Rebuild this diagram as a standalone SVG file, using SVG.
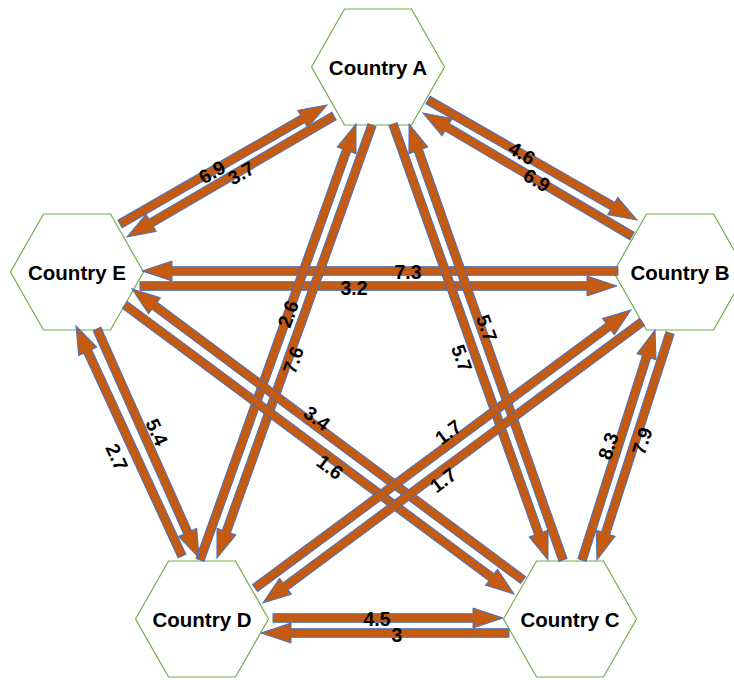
<svg xmlns="http://www.w3.org/2000/svg" width="734" height="680" viewBox="0 0 734 680">
<style>
.hex{fill:#fff;stroke:#70AD47;stroke-width:1.2}
.name{font-family:"Liberation Sans",Arial,sans-serif;font-weight:bold;font-size:20.5px;fill:#000;text-anchor:middle}
.arr{fill:#C55A11;stroke:#4472C4;stroke-width:1}
.lbl{font-family:"Liberation Sans",Arial,sans-serif;font-weight:bold;font-size:19.5px;fill:#000;text-anchor:middle;dominant-baseline:central}
</style>
<defs>
<polygon id="hexshape" points="-66.5,0 -33.5,-58 33.5,-58 66.5,0 33.5,58 -33.5,58"/>
</defs>
<g id="node-A"><use href="#hexshape" class="hex" transform="translate(378,67)"/><text class="name" x="378" y="75">Country A</text></g>
<g id="node-B"><use href="#hexshape" class="hex" transform="translate(680,272)"/><text class="name" x="680" y="280">Country B</text></g>
<g id="node-C"><use href="#hexshape" class="hex" transform="translate(570,619)"/><text class="name" x="570" y="627">Country C</text></g>
<g id="node-D"><use href="#hexshape" class="hex" transform="translate(202,619)"/><text class="name" x="202" y="627">Country D</text></g>
<g id="node-E"><use href="#hexshape" class="hex" transform="translate(77,272)"/><text class="name" x="77" y="280">Country E</text></g>
<g id="connectors">
<polygon class="arr" transform="translate(120,224) rotate(-29.9)" points="0,-4.3 210.8,-4.3 210.8,-10 238.8,0 210.8,10 210.8,4.3 0,4.3"/>
<polygon class="arr" transform="translate(334,116) rotate(149.7)" points="0,-4.3 211.8,-4.3 211.8,-10 239.8,0 211.8,10 211.8,4.3 0,4.3"/>
<polygon class="arr" transform="translate(428,100) rotate(29.86)" points="0,-4.3 213,-4.3 213,-10 241,0 213,10 213,4.3 0,4.3"/>
<polygon class="arr" transform="translate(632,236) rotate(-149.53)" points="0,-4.3 214.5,-4.3 214.5,-10 242.5,0 214.5,10 214.5,4.3 0,4.3"/>
<polygon class="arr" transform="translate(618,271) rotate(180)" points="0,-4.3 446,-4.3 446,-10 476,0 446,10 446,4.3 0,4.3"/>
<polygon class="arr" transform="translate(140,286)" points="0,-4.3 447,-4.3 447,-10 477,0 447,10 447,4.3 0,4.3"/>
<polygon class="arr" transform="translate(200,560) rotate(-70.31)" points="0,-4.3 435.1,-4.3 435.1,-10 463.1,0 435.1,10 435.1,4.3 0,4.3"/>
<polygon class="arr" transform="translate(372,125) rotate(109.7)" points="0,-4.3 431.9,-4.3 431.9,-10 459.9,0 431.9,10 431.9,4.3 0,4.3"/>
<polygon class="arr" transform="translate(393,124) rotate(70.43)" points="0,-4.3 434.7,-4.3 434.7,-10 462.7,0 434.7,10 434.7,4.3 0,4.3"/>
<polygon class="arr" transform="translate(563,560) rotate(-109.45)" points="0,-4.3 434.4,-4.3 434.4,-10 462.4,0 434.4,10 434.4,4.3 0,4.3"/>
<polygon class="arr" transform="translate(582,560) rotate(-72.39)" points="0,-4.3 213.3,-4.3 213.3,-10 241.3,0 213.3,10 213.3,4.3 0,4.3"/>
<polygon class="arr" transform="translate(670,333) rotate(107.83)" points="0,-4.3 210.4,-4.3 210.4,-10 238.4,0 210.4,10 210.4,4.3 0,4.3"/>
<polygon class="arr" transform="translate(182,556) rotate(-114.74)" points="0,-4.3 225.3,-4.3 225.3,-10 253.3,0 225.3,10 225.3,4.3 0,4.3"/>
<polygon class="arr" transform="translate(97,329) rotate(65.99)" points="0,-4.3 222.7,-4.3 222.7,-10 250.7,0 222.7,10 222.7,4.3 0,4.3"/>
<polygon class="arr" transform="translate(523,580) rotate(-143.34)" points="0,-4.3 459.4,-4.3 459.4,-10 487.4,0 459.4,10 459.4,4.3 0,4.3"/>
<polygon class="arr" transform="translate(125,305) rotate(36.61)" points="0,-4.3 456.6,-4.3 456.6,-10 484.6,0 456.6,10 456.6,4.3 0,4.3"/>
<polygon class="arr" transform="translate(255,588) rotate(-36.48)" points="0,-4.3 439.6,-4.3 439.6,-10 467.6,0 439.6,10 439.6,4.3 0,4.3"/>
<polygon class="arr" transform="translate(642,322) rotate(143.45)" points="0,-4.3 443.8,-4.3 443.8,-10 471.8,0 443.8,10 443.8,4.3 0,4.3"/>
<polygon class="arr" transform="translate(273,618)" points="0,-4.3 200,-4.3 200,-10 230,0 200,10 200,4.3 0,4.3"/>
<polygon class="arr" transform="translate(509,633) rotate(180)" points="0,-4.3 218,-4.3 218,-10 248,0 218,10 218,4.3 0,4.3"/>
<text class="lbl" transform="translate(212,172) rotate(-30)">6.9</text>
<text class="lbl" transform="translate(241,173) rotate(-30)">3.7</text>
<text class="lbl" transform="translate(522,153) rotate(30)">4.6</text>
<text class="lbl" transform="translate(537,180) rotate(30)">6.9</text>
<text class="lbl" transform="translate(408,272)">7.3</text>
<text class="lbl" transform="translate(354,288)">3.2</text>
<text class="lbl" transform="translate(288,314) rotate(-70)">2.6</text>
<text class="lbl" transform="translate(293,360) rotate(-70)">7.6</text>
<text class="lbl" transform="translate(487,328) rotate(70)">5.7</text>
<text class="lbl" transform="translate(462,358) rotate(70)">5.7</text>
<text class="lbl" transform="translate(608,446) rotate(-72)">8.3</text>
<text class="lbl" transform="translate(642,441) rotate(-72)">7.9</text>
<text class="lbl" transform="translate(157,432) rotate(65)">5.4</text>
<text class="lbl" transform="translate(117,457) rotate(65)">2.7</text>
<text class="lbl" transform="translate(317,418) rotate(37)">3.4</text>
<text class="lbl" transform="translate(330,467) rotate(37)">1.6</text>
<text class="lbl" transform="translate(448,432) rotate(-37)">1.7</text>
<text class="lbl" transform="translate(443,480) rotate(-37)">1.7</text>
<text class="lbl" transform="translate(377,619)">4.5</text>
<text class="lbl" transform="translate(397,635)">3</text>
</g>
</svg>
